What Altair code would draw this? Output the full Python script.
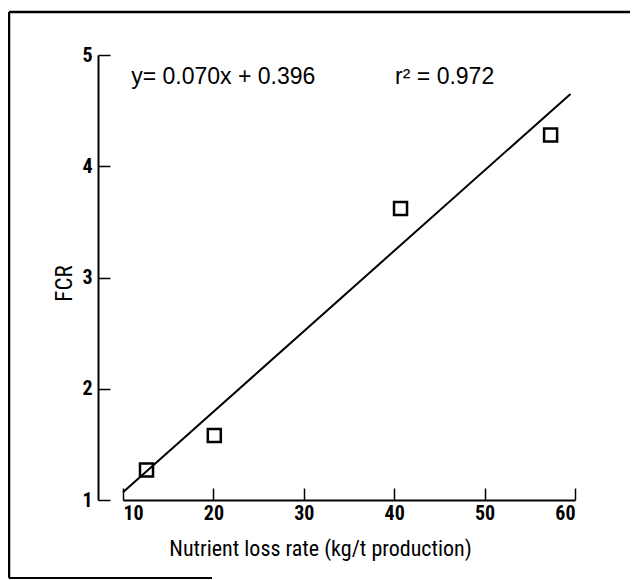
import altair as alt
import pandas as pd

# ---- data ----
nutrient_loss = [12.6, 20.1, 40.7, 57.3]
fcr = [1.27, 1.58, 3.62, 4.28]
fit_x = [10, 59.5]
fit_y = [1.07, 4.65]
x_ticks = [10, 20, 30, 40, 50, 60]
y_ticks = [1, 2, 3, 4, 5]
notes = ["y= 0.070x + 0.396", "r\u00b2 = 0.972"]
note_x = [10.9, 40.1]
note_y = [4.80, 4.80]

W, H = 452, 445
FONT = "Liberation Sans Narrow, Arial Narrow, Roboto Condensed, Liberation Sans, sans-serif"
NOTE_FONT = "Liberation Sans, Arial, sans-serif"

xs = alt.Scale(domain=[10, 60], nice=False, zero=False)
ys = alt.Scale(domain=[1, 5], nice=False, zero=False)

pts_df = pd.DataFrame({"x": nutrient_loss, "y": fcr})
fit_df = pd.DataFrame({"x": fit_x, "y": fit_y})
note_df = pd.DataFrame({"x": note_x, "y": note_y, "t": notes})

points = alt.Chart(pts_df).mark_point(
    shape="square", filled=False, size=169, strokeWidth=2.5, color="black", opacity=1
).encode(
    x=alt.X("x:Q", scale=xs, axis=alt.Axis(
        orient="bottom", values=x_ticks, ticks=False, domain=True, domainColor="black",
        domainWidth=2, labelPadding=3, labelFont=FONT, labelFontSize=20,
        labelFontWeight="bold", labelColor="black", grid=False,
        title="Nutrient loss rate (kg/t production)", titleFont=FONT, titleFontSize=22,
        titleFontWeight="normal", titleColor="black", titleX=197, titleY=48,
        titleAlign="center", titleBaseline="middle")),
    y=alt.Y("y:Q", scale=ys, axis=alt.Axis(
        orient="left", offset=25, values=y_ticks, ticks=False, domain=True,
        domainColor="black", domainWidth=2, labelPadding=6, labelFont=FONT,
        labelFontSize=20, labelFontWeight="bold", labelColor="black", grid=False,
        title="FCR", titleFont=FONT, titleFontSize=23, titleFontWeight="normal",
        titleColor="black", titleAngle=270, titleX=-34, titleY=228,
        titleAlign="center", titleBaseline="middle")),
)

fit = alt.Chart(fit_df).mark_line(color="black", strokeWidth=2).encode(
    x=alt.X("x:Q", scale=xs, axis=alt.Axis(
        orient="top", offset=-H, values=x_ticks, labels=False, domain=False,
        ticks=True, tickSize=12, tickWidth=1.5, tickColor="black", grid=False, title=None)),
    y=alt.Y("y:Q", scale=ys, axis=alt.Axis(
        orient="right", offset=-(W + 25), values=y_ticks, labels=False, domain=False,
        ticks=True, tickSize=12, tickWidth=1.5, tickColor="black", grid=False, title=None)),
)

text = alt.Chart(note_df).mark_text(
    align="left", baseline="middle", font=NOTE_FONT, fontSize=23, color="black"
).encode(
    x=alt.X("x:Q", scale=xs, axis=None),
    y=alt.Y("y:Q", scale=ys, axis=None),
    text="t:N",
)

# outer frame of the figure (left, top and the visible part of the bottom edge)
one = pd.DataFrame({"a": [0]})
frame_left = alt.Chart(one).mark_rule(color="black", strokeWidth=2.5).encode(
    x=alt.value(-114), y=alt.value(-43), y2=alt.value(523))
frame_top = alt.Chart(one).mark_rule(color="black", strokeWidth=2.5).encode(
    x=alt.value(-114), x2=alt.value(W + 55), y=alt.value(-43))
frame_bottom = alt.Chart(one).mark_rule(color="black", strokeWidth=2).encode(
    x=alt.value(-114), x2=alt.value(89), y=alt.value(523))

chart = alt.layer(points, fit, text, frame_left, frame_top, frame_bottom).resolve_axis(
    x="independent", y="independent"
).properties(
    width=W, height=H,
    autosize=alt.AutoSizeParams(type="none"),
    padding={"left": 115, "top": 47, "right": 55, "bottom": 80},
    background="white",
).configure_view(stroke=None)

chart.save("out.html", embed_options={"renderer": "svg", "actions": False})
